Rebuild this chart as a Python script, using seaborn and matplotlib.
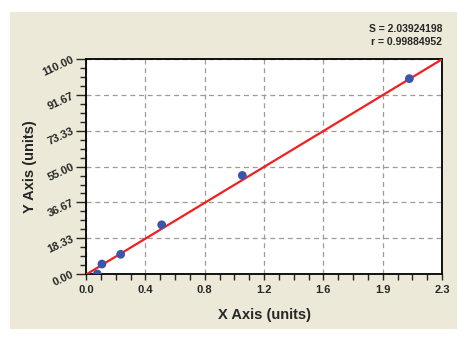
import numpy as np
import matplotlib
matplotlib.use("Agg")
import matplotlib.pyplot as plt
import seaborn as sns
import pandas as pd
from matplotlib.patches import Rectangle
from matplotlib.ticker import FixedLocator, FixedFormatter

# data
x_vals = [0.073, 0.103, 0.224, 0.489, 1.01, 2.089]
y_vals = [0.0, 5.1, 10.1, 25.2, 50.5, 100.1]
fit_x = [0.0, 2.3]
fit_y = [-0.3, 110.0]
x_tick_labels = ["0.0", "0.4", "0.8", "1.2", "1.6", "1.9", "2.3"]
y_tick_labels = ["0.00", "18.33", "36.67", "55.00", "73.33", "91.67", "110.00"]
stat_lines = ["S = 2.03924198", "r = 0.99884952"]

sns.set_style("white")
plt.rcParams["font.family"] = ["Liberation Sans", "DejaVu Sans"]

fig = plt.figure(figsize=(4.69, 3.37), dpi=100)
fig.patch.set_facecolor("white")
fig.patches.append(Rectangle((10/469, 1-329/337), 447/469, 317/337,
                             transform=fig.transFigure, facecolor="#ECE9D8",
                             edgecolor="none", zorder=-10))

ax = fig.add_axes([86/469, 1-274/337, 356/469, 214.7/337])
ax.set_zorder(1)
ax.set_facecolor("white")

df = pd.DataFrame({"x": x_vals, "y": y_vals})
fit = pd.DataFrame({"x": fit_x, "y": fit_y})

sns.lineplot(data=fit, x="x", y="y", ax=ax, color="#F02020", linewidth=1.6, zorder=3)
sns.scatterplot(data=df, x="x", y="y", ax=ax, color="#3D55A8", s=40,
                edgecolor="none", zorder=4)

ax.set_xlim(0, 2.3)
ax.set_ylim(0, 110)
xt = np.linspace(0, 2.3, len(x_tick_labels))
yt = np.linspace(0, 110, len(y_tick_labels))
ax.xaxis.set_major_locator(FixedLocator(xt))
ax.xaxis.set_major_formatter(FixedFormatter(x_tick_labels))
ax.yaxis.set_major_locator(FixedLocator(yt))
ax.yaxis.set_major_formatter(FixedFormatter(y_tick_labels))
ax.xaxis.set_minor_locator(FixedLocator(np.linspace(0, 2.3, 25)))
ax.yaxis.set_minor_locator(FixedLocator(np.linspace(0, 110, 25)))

ax.grid(True, which="major", linestyle=(0, (4, 3)), color="#A09C94", linewidth=0.9)
ax.set_axisbelow(True)
for sp in ax.spines.values():
    sp.set_visible(True)
    sp.set_color("black")
    sp.set_linewidth(1.3)

ax.tick_params(axis="x", which="both", direction="out", length=4, width=1,
               bottom=True, labelsize=8, pad=4)
ax.tick_params(axis="y", which="major", direction="out", length=7, width=1,
               left=True, labelsize=8, pad=2)
ax.tick_params(axis="y", which="minor", direction="out", length=4, width=1, left=True)
for lab in ax.get_xticklabels():
    lab.set_fontweight("bold")
for lab in ax.get_yticklabels():
    lab.set_fontweight("bold")
    lab.set_rotation(25)
    lab.set_rotation_mode("anchor")
    lab.set_ha("right")
    lab.set_va("center")

ax.set_xlabel("X Axis (units)", fontsize=10.5, fontweight="bold", labelpad=9)
ax.set_ylabel("Y Axis (units)", fontsize=10.5, fontweight="bold", labelpad=3)

fig.text(442/469, 1-29/337, stat_lines[0], ha="right", va="center",
         fontsize=7.5, fontweight="bold")
fig.text(442/469, 1-42/337, stat_lines[1], ha="right", va="center",
         fontsize=7.5, fontweight="bold")

fig.savefig("out.png", dpi=100)
